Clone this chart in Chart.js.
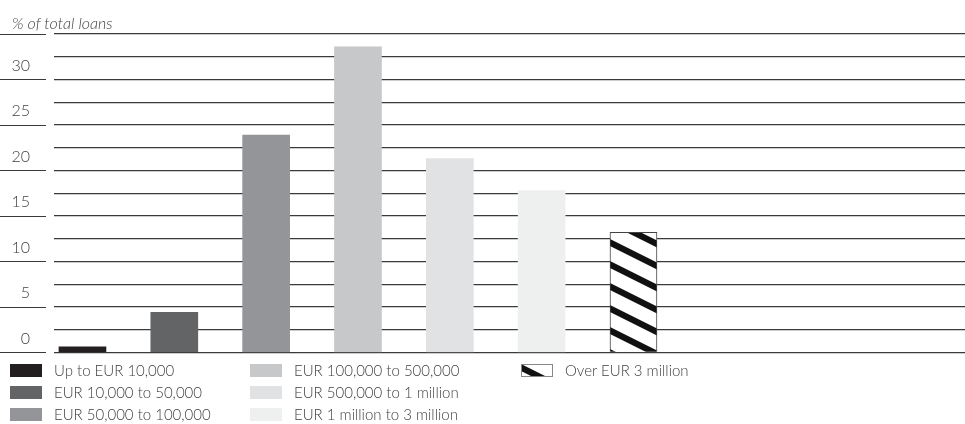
<!DOCTYPE html>
<html>
<head>
<meta charset="utf-8">
<script src="https://cdn.jsdelivr.net/npm/chart.js@4"></script>
<style>
  body { margin: 0; background: #fff; font-family: Lato, "Open Sans", sans-serif; color: #3f3f3f; }
  #wrap { position: relative; width: 965px; height: 424px; overflow: hidden; }
  #loansChart { position: absolute; left: 0; top: 0; }
  #axisTitle { position: absolute; left: 12px; top: 13px; font-size: 16px; font-weight: 300; font-style: italic; color: #444; }
  #legend { position: absolute; left: 0; top: 359px; width: 965px; height: 66px; }
  .item { position: absolute; height: 22px; display: flex; align-items: center; font-size: 15px; font-weight: 300; white-space: nowrap; }
  .swatch { width: 32px; height: 13px; margin-right: 12px; display: block; }
</style>
</head>
<body>
<div id="wrap">
  <canvas id="loansChart" width="965" height="386"></canvas>
  <div id="axisTitle">% of total loans</div>
  <div id="legend"></div>
</div>
<script>
// loan size bands and their share of total loans (%)
const loanBands = [
  "Up to EUR 10,000",
  "EUR 10,000 to 50,000",
  "EUR 50,000 to 100,000",
  "EUR 100,000 to 500,000",
  "EUR 500,000 to 1 million",
  "EUR 1 million to 3 million",
  "Over EUR 3 million"
];
const shareOfLoans = [0.6, 4.4, 23.9, 33.6, 21.3, 17.8, 13.2];
const bandColors = ["#231f20", "#636466", "#939598", "#c7c8ca", "#e1e2e4", "#eef0ef", "hatch"];
const labelledTicks = [0, 5, 10, 15, 20, 25, 30];

// legend columns (column-major, three rows each)
const legendCols = [10, 250, 521];
const rowHeight = 22;

function makeHatch() {
  const tile = document.createElement("canvas");
  tile.width = 44;
  tile.height = 22;
  const c = tile.getContext("2d");
  c.fillStyle = "#fff";
  c.fillRect(0, 0, 44, 22);
  c.fillStyle = "#111";
  const t = 7;
  [-22, 0, 22].forEach((off) => {
    c.beginPath();
    c.moveTo(0, off);
    c.lineTo(44, off + 22);
    c.lineTo(44, off + 22 + t);
    c.lineTo(0, off + t);
    c.closePath();
    c.fill();
  });
  return tile;
}

const hatchTile = makeHatch();
const ctx = document.getElementById("loansChart").getContext("2d");
const hatch = ctx.createPattern(hatchTile, "repeat");
const fillFor = (col) => (col === "hatch" ? hatch : col);

Chart.defaults.font.family = "Lato, 'Open Sans', sans-serif";
Chart.defaults.color = "#3f3f3f";

const gridColor = "#3a3a3a";

// short tick stubs under the y labels, left of the plot
const tickStubs = {
  id: "tickStubs",
  afterDraw(chart) {
    const y = chart.scales.y;
    const c = chart.ctx;
    c.save();
    c.strokeStyle = gridColor;
    c.lineWidth = 1.2;
    for (let v = 0; v <= 35; v += 5) {
      const py = Math.round(y.getPixelForValue(v)) + 0.5;
      c.beginPath();
      c.moveTo(0, py);
      c.lineTo(46, py);
      c.stroke();
    }
    c.restore();
  }
};

const datasets = loanBands.map((band, i) => ({
  label: band,
  data: [{ x: i, y: shareOfLoans[i] }],
  backgroundColor: fillFor(bandColors[i]),
  borderColor: bandColors[i] === "hatch" ? "#444" : bandColors[i],
  borderWidth: bandColors[i] === "hatch" ? 1 : 0,
  barThickness: 47,
  grouped: false
}));

// the y tick padding also pads the plot top and bottom,
// so the canvas runs under the legend and needs no extra layout padding below
new Chart(ctx, {
  type: "bar",
  data: { datasets },
  plugins: [tickStubs],
  options: {
    responsive: false,
    animation: false,
    layout: { padding: { top: 34, bottom: 0, left: 0, right: 0 } },
    plugins: {
      legend: { display: false },
      tooltip: { enabled: false }
    },
    scales: {
      x: {
        type: "linear",
        display: false,
        offset: false,
        min: -0.31,
        max: 9.61
      },
      y: {
        min: 0,
        max: 35,
        border: { display: false },
        grid: { color: gridColor, lineWidth: 1.2, drawTicks: false },
        afterFit(scale) { scale.width = 54; },
        ticks: {
          stepSize: 2.5,
          padding: 24,
          labelOffset: -14,
          font: { size: 16, weight: "300" },
          color: "#3f3f3f",
          callback: (v) => (labelledTicks.includes(v) ? String(v) : "")
        }
      }
    }
  }
});

// legend below the plot
const legend = document.getElementById("legend");
loanBands.forEach((band, i) => {
  const item = document.createElement("div");
  item.className = "item";
  item.style.left = legendCols[Math.floor(i / 3)] + "px";
  item.style.top = (i % 3) * rowHeight + "px";
  const sw = document.createElement("canvas");
  sw.className = "swatch";
  sw.width = 32;
  sw.height = 13;
  const sc = sw.getContext("2d");
  if (bandColors[i] === "hatch") {
    sc.fillStyle = sc.createPattern(hatchTile, "repeat");
    sc.fillRect(0, 0, 32, 13);
    sc.strokeStyle = "#888";
    sc.strokeRect(0.5, 0.5, 31, 12);
  } else {
    sc.fillStyle = bandColors[i];
    sc.fillRect(0, 0, 32, 13);
  }
  const txt = document.createElement("span");
  txt.textContent = band;
  item.appendChild(sw);
  item.appendChild(txt);
  legend.appendChild(item);
});
</script>
</body>
</html>
